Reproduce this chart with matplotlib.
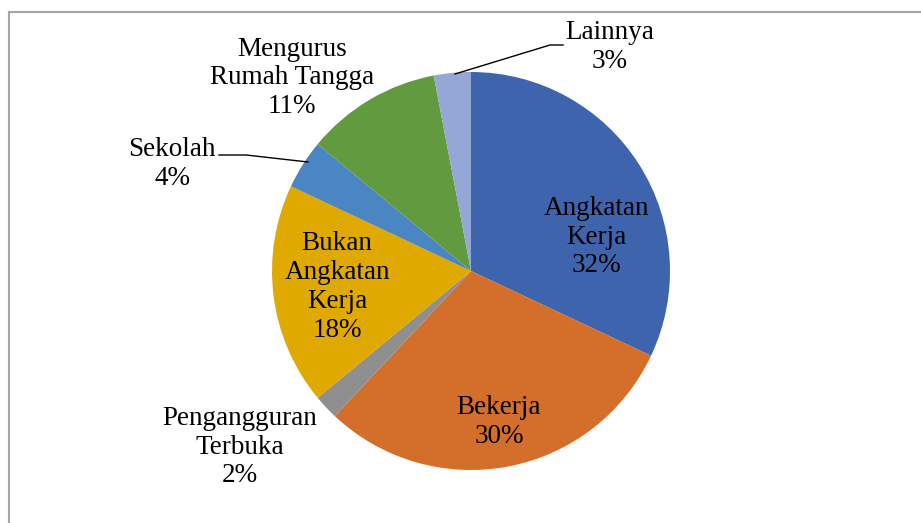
import matplotlib
matplotlib.use("Agg")
import matplotlib.pyplot as plt
from matplotlib.lines import Line2D

categories = ["Angkatan\nKerja", "Bekerja", "Pengangguran\nTerbuka", "Bukan\nAngkatan\nKerja",
              "Sekolah", "Mengurus\nRumah Tangga", "Lainnya"]
values = [32, 30, 2, 18, 4, 11, 3]
colors = ["#3E64AE", "#D46E2B", "#8F8F8F", "#E0A900", "#4A86C1", "#629A3F", "#94A7D7"]

# label centres in pixel coords (x, y from top)
label_pos = [(596, 237), (499, 422), (240, 447), (337, 287), (172, 164), (292, 78), (610, 47)]

W, H = 921, 523
fig = plt.figure(figsize=(W / 100, H / 100), dpi=100)
ax = fig.add_axes([0, 0, 1, 1])

cx, cy, r = 471, 271, 199
ax.pie(values, colors=colors, startangle=90, counterclock=False,
       center=(cx, H - cy), radius=r, frame=True,
       wedgeprops=dict(linewidth=0))
ax.set_xlim(0, W)
ax.set_ylim(0, H)
ax.set_aspect("equal")
ax.axis("off")

for lab, v, (x, y) in zip(categories, values, label_pos):
    ax.text(x, H - y, f"{lab}\n{v}%", ha="center", va="center", fontsize=19.5,
            linespacing=1.2, family=["Liberation Serif", "DejaVu Serif"])

# leader lines
ax.plot([219, 246, 308], [H - 155, H - 155, H - 162], color="black", lw=1)
ax.plot([455, 550, 563], [H - 74, H - 45, H - 45], color="black", lw=1)

# outer border
fig.add_artist(Line2D([9 / W, 1], [1 - 12 / H, 1 - 12 / H], color="#A6A6A6", lw=1.5))
fig.add_artist(Line2D([9 / W, 9 / W], [0, 1 - 12 / H], color="#A6A6A6", lw=1.5))

fig.savefig("out.png", dpi=100)
